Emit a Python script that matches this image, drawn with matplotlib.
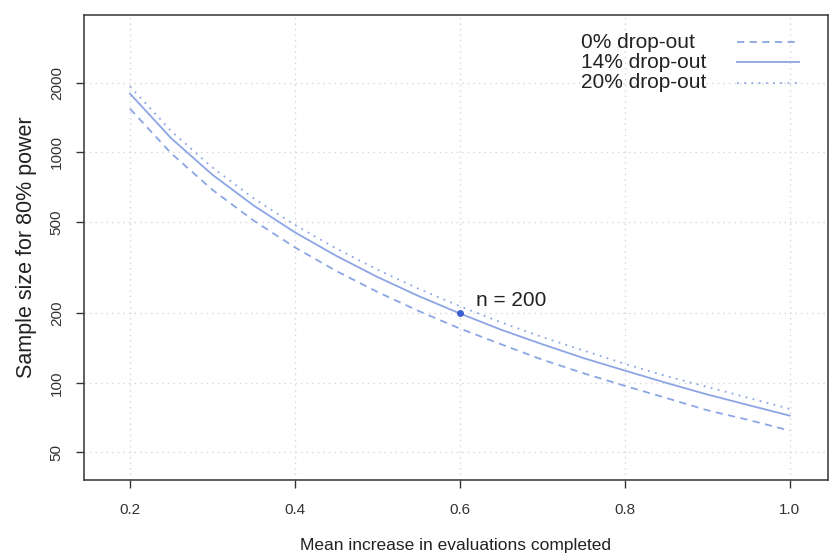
import numpy as np
import matplotlib
matplotlib.use("Agg")
import matplotlib.pyplot as plt

plt.rcParams['font.family'] = ['Liberation Sans', 'DejaVu Sans']

# mean increase in evaluations completed
effect = [0.20, 0.25, 0.30, 0.35, 0.40, 0.45, 0.50, 0.55, 0.60,
          0.65, 0.70, 0.75, 0.80, 0.85, 0.90, 0.95, 1.00]
# sample size for each drop-out rate
n_0pct = [1548, 991, 688, 506, 387, 306, 248, 205, 172,
          147, 126, 110, 97, 86, 76, 69, 62]
n_14pct = [1800, 1152, 800, 588, 450, 356, 288, 238, 200,
           170, 147, 128, 113, 100, 89, 80, 72]
n_20pct = [1935, 1238, 860, 632, 484, 383, 310, 256, 215,
           183, 158, 138, 121, 107, 96, 86, 77]
labels = ["0% drop-out", "14% drop-out", "20% drop-out"]
mark_x, mark_n = 0.6, 200

xticks = [0.2, 0.4, 0.6, 0.8, 1.0]
yticks = [50, 100, 200, 500, 1000, 2000]

col = '#8ca5e4'
txt = '#222222'

fig = plt.figure(figsize=(8.31, 5.57), dpi=100)
ax = fig.add_axes([0.101, 0.138, 0.895, 0.835])

l0, = ax.plot(effect, n_0pct, color=col, lw=1.3, ls=(0, (4, 3)))
l1, = ax.plot(effect, n_14pct, color=col, lw=1.3, ls='-')
l2, = ax.plot(effect, n_20pct, color=col, lw=1.3, ls=(0, (1, 3)))
ax.plot([mark_x], [mark_n], 'o', color='#3b5fcf', ms=4)
ax.annotate("n = %d" % mark_n, (mark_x, mark_n), xytext=(11.5, 9.4),
            textcoords='offset points', fontsize=15, color=txt,
            va='center', ha='left')

ax.set_yscale('log')
ax.set_xlim(0.1442, 1.046)
ax.set_ylim(37.8, 3948)
ax.set_xticks(xticks)
ax.set_xticklabels(["%.1f" % v for v in xticks])
ax.set_yticks(yticks)
ax.set_yticklabels([str(v) for v in yticks], rotation=90, va='center')
ax.minorticks_off()
ax.tick_params(labelsize=11, colors='#333333', length=5.5, width=1)
ax.tick_params(axis='x', pad=11)
ax.tick_params(axis='y', pad=9)
ax.grid(True, color='#d5d5d5', ls=(0, (1, 3)), lw=1)

for s in ax.spines.values():
    s.set_color('#444444')
    s.set_linewidth(1.2)

ax.set_xlabel("Mean increase in evaluations completed", fontsize=12.5,
              color=txt, labelpad=15)
ax.set_ylabel("Sample size for 80% power", fontsize=15.5,
              color=txt, labelpad=9)

# legend: samples on the right, labels left-aligned in a column before them
leg = ax.legend([l0, l1, l2], ['', '', ''], loc='upper right',
                bbox_to_anchor=(0.962, 0.955), frameon=False,
                fontsize=10, handlelength=4.46, handletextpad=0,
                labelspacing=0.46, borderpad=0, borderaxespad=0)
fig.canvas.draw()
for line, lab in zip(leg.get_lines(), labels):
    y = line.get_transform().transform(line.get_xydata())[0, 1]
    fig.text(581 / 831, y / fig.bbox.height, lab, fontsize=15,
             color=txt, ha='left', va='center')

fig.savefig("out.png", dpi=100)
